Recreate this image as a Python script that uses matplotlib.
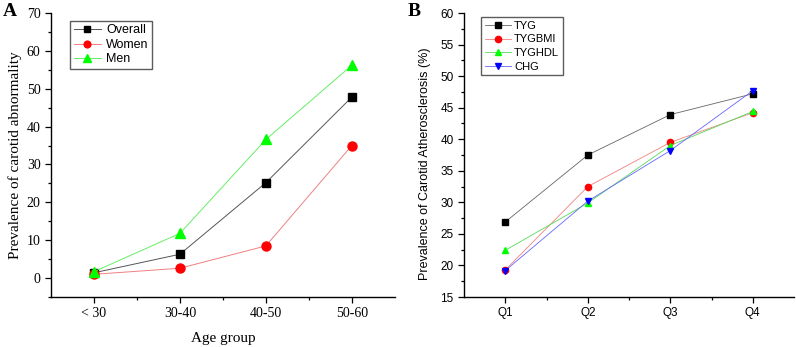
import matplotlib
matplotlib.use("Agg")
import matplotlib.pyplot as plt
from matplotlib.ticker import MultipleLocator

# panel A data
age_groups = ["< 30", "30-40", "40-50", "50-60"]
overall = [1.4, 6.3, 25.2, 47.8]
women = [1.0, 2.6, 8.5, 35.0]
men = [1.7, 11.8, 36.6, 56.2]

# panel B data
quartiles = ["Q1", "Q2", "Q3", "Q4"]
tyg = [26.9, 37.5, 43.9, 47.2]
tygbmi = [19.3, 32.5, 39.5, 44.2]
tyghdl = [22.4, 29.9, 39.0, 44.4]
chg = [19.2, 30.2, 38.2, 47.7]

serif = "Liberation Serif"
sans = "Liberation Sans"

fig = plt.figure(figsize=(7.96, 3.47), dpi=100)
axA = fig.add_axes([0.064, 0.144, 0.432, 0.8185])
axB = fig.add_axes([0.583, 0.144, 0.4145, 0.8185])


def style_axes(ax, font, size):
    ax.spines["top"].set_visible(False)
    ax.spines["right"].set_visible(False)
    for s in ["left", "bottom"]:
        ax.spines[s].set_linewidth(1.0)
    ax.tick_params(which="both", direction="out", width=0.9)
    ax.tick_params(which="major", length=4)
    ax.tick_params(which="minor", length=2.5)
    for lab in ax.get_xticklabels() + ax.get_yticklabels():
        lab.set_fontfamily(font)
        lab.set_fontsize(size)


# ---- panel A
x = range(len(age_groups))
axA.plot(x, overall, color="#555555", lw=0.7, marker="s", ms=5.5,
         mfc="black", mec="black", label="Overall")
axA.plot(x, women, color="#f08080", lw=0.7, marker="o", ms=6.5,
         mfc="red", mec="red", label="Women")
axA.plot(x, men, color="#66ee66", lw=0.7, marker="^", ms=7,
         mfc="#00ff00", mec="#00ff00", label="Men")
axA.set_xlim(-0.5, 3.5)
axA.set_ylim(-5, 70)
axA.set_xticks(list(x))
axA.set_xticklabels(age_groups)
axA.set_xticks([0.5, 1.5, 2.5], minor=True)
axA.set_yticks(range(0, 71, 10))
axA.yaxis.set_minor_locator(MultipleLocator(5))
style_axes(axA, serif, 10)
axA.set_xlabel("Age group", fontfamily=serif, fontsize=11, labelpad=8)
axA.set_ylabel("Prevalence of carotid abnormality", fontfamily=serif,
               fontsize=11, labelpad=3)
legA = axA.legend(loc="upper left", bbox_to_anchor=(0.055, 0.973),
                  borderaxespad=0,
                  prop={"family": sans, "size": 9}, frameon=True,
                  fancybox=False, edgecolor="#333333", handlelength=2.2,
                  handletextpad=0.4, borderpad=0.3, labelspacing=0.2,
                  markerscale=0.75)
legA.get_frame().set_linewidth(1.0)
fig.text(0.003, 0.955, "A", fontfamily=serif, fontweight="bold", fontsize=14)

# ---- panel B
xb = range(len(quartiles))
axB.plot(xb, tyg, color="#666666", lw=0.6, marker="s", ms=4,
         mfc="black", mec="black", label="TYG")
axB.plot(xb, tygbmi, color="#f08080", lw=0.6, marker="o", ms=4.5,
         mfc="red", mec="red", label="TYGBMI")
axB.plot(xb, tyghdl, color="#55dd55", lw=0.6, marker="^", ms=5,
         mfc="#00ff00", mec="#00ff00", label="TYGHDL")
axB.plot(xb, chg, color="#6666ff", lw=0.6, marker="v", ms=5,
         mfc="blue", mec="blue", label="CHG")
axB.set_xlim(-0.5, 3.5)
axB.set_ylim(15, 60)
axB.set_xticks(list(xb))
axB.set_xticklabels(quartiles)
axB.set_xticks([0.5, 1.5, 2.5], minor=True)
axB.set_yticks(range(15, 61, 5))
axB.yaxis.set_minor_locator(MultipleLocator(2.5))
style_axes(axB, sans, 8.5)
axB.set_ylabel("Prevalence of Carotid Atherosclerosis (%)", fontfamily=sans,
               fontsize=9, labelpad=4)
axB.yaxis.set_label_coords(-0.1, 0.47)
legB = axB.legend(loc="upper left", bbox_to_anchor=(0.052, 0.986),
                  borderaxespad=0,
                  prop={"family": sans, "size": 8}, frameon=True,
                  fancybox=False, edgecolor="#333333", handlelength=2.3,
                  handletextpad=0.3, borderpad=0.35, labelspacing=0.32)
legB.get_frame().set_linewidth(1.0)
fig.text(0.512, 0.955, "B", fontfamily=serif, fontweight="bold", fontsize=14)

fig.savefig("out.png", dpi=100)
